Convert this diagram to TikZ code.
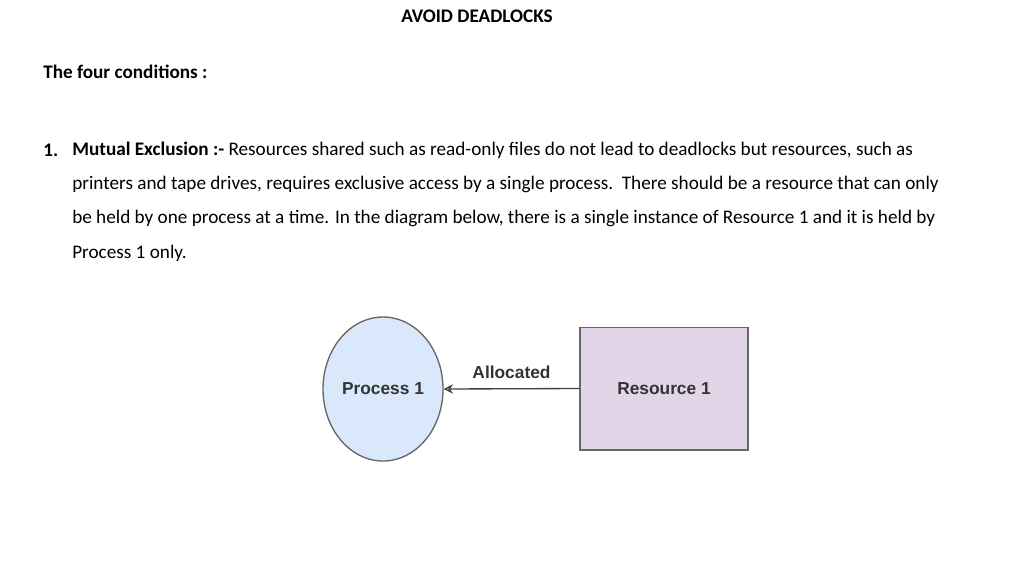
\documentclass[tikz,border=0pt]{standalone}
\usepackage{fontspec}
\setmainfont{Carlito}
\newfontfamily\diagfont{Liberation Sans}
\usetikzlibrary{arrows.meta,shapes.geometric}
\definecolor{procfill}{HTML}{DAE8FC}
\definecolor{resfill}{HTML}{E1D5E7}
\definecolor{edge}{HTML}{666666}
\tikzset{
  txt/.style={anchor=west,inner sep=0pt,font=\fontsize{14.4}{17}\selectfont},
  shapebox/.style={draw=edge,line width=1pt},
  lbl/.style={font=\diagfont\bfseries\fontsize{13}{15}\selectfont,text=black!80}
}
\begin{document}
\begin{tikzpicture}[x=0.75pt,y=-0.75pt]
\useasboundingbox (0,0) rectangle (1024,576);
\node[txt,anchor=center,font=\bfseries\fontsize{14.4}{17}\selectfont] (title) at (477,16) {AVOID DEADLOCKS};
\node[txt,font=\bfseries\fontsize{14.4}{17}\selectfont] (cond) at (43,72) {The four conditions :};
\node[txt,font=\bfseries\fontsize{14.4}{17}\selectfont] (num) at (43,150) {1.};
\node[txt] (l1) at (72,150) {\textbf{Mutual Exclusion :-} Resources shared such as read-only files do not lead to deadlocks but resources, such as};
\node[txt] (l2) at (72,184) {printers and tape drives, requires exclusive access by a single process.\ \ There should be a resource that can only};
\node[txt] (l3) at (72,218) {be held by one process at a time. In the diagram below, there is a single instance of Resource 1 and it is held by};
\node[txt] (l4) at (72,253) {Process 1 only.};
\node[shapebox,fill=procfill,ellipse,minimum width=90pt,minimum height=108pt,inner sep=0pt,lbl] (p) at (383,389) {Process 1};
\node[shapebox,fill=resfill,minimum width=126pt,minimum height=92pt,inner sep=0pt,lbl] (r) at (664,388.5) {Resource 1};
\draw[black!75,line width=1pt,-{Stealth[length=7pt,width=7pt,open]}] (r.west) -- (p.east) node[midway,above=4pt,lbl] (al) {Allocated};
\end{tikzpicture}
\end{document}
